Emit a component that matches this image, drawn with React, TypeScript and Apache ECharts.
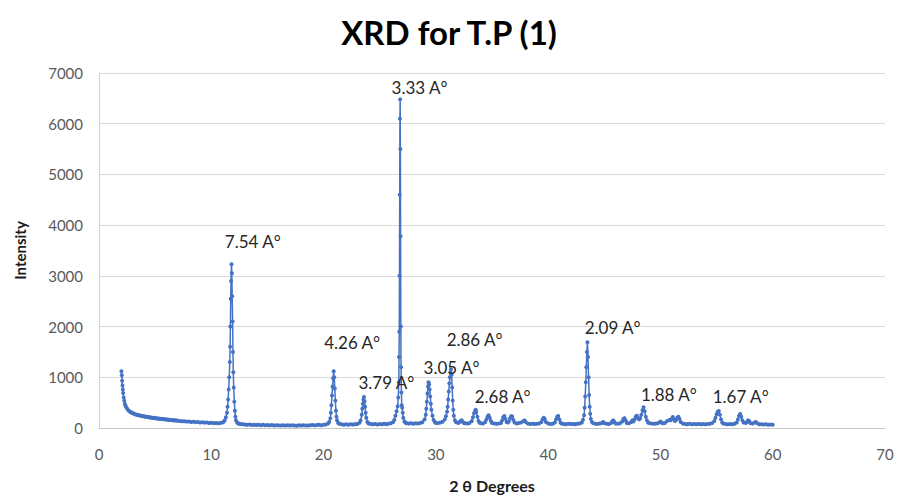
import React, { useEffect, useRef } from "react";
import * as echarts from "echarts";

// 2θ (degrees) vs intensity (counts)
const scanLowAngle: [number, number][] = [
  [2.0, 1120], [2.03, 1040], [2.06, 930], [2.09, 840], [2.12, 760], [2.15, 690], [2.2, 600], [2.25, 540],
  [2.3, 480], [2.35, 445], [2.4, 420], [2.5, 385], [2.6, 352], [2.7, 335], [2.8, 312], [2.9, 305],
  [3.0, 292], [3.1, 285], [3.2, 272], [3.3, 268], [3.4, 258], [3.5, 255], [3.6, 246], [3.7, 244],
  [3.8, 236], [3.9, 238], [4.0, 228], [4.1, 226], [4.2, 220], [4.3, 222], [4.4, 212], [4.5, 214],
  [4.6, 206], [4.7, 204], [4.8, 198], [4.9, 200], [5.0, 192], [5.1, 194], [5.2, 186], [5.3, 188],
  [5.4, 180], [5.5, 182], [5.6, 175], [5.7, 178], [5.8, 170], [5.9, 172], [6.0, 165], [6.1, 168],
  [6.2, 160], [6.3, 162], [6.4, 156], [6.5, 158], [6.6, 150], [6.7, 154], [6.8, 146], [6.9, 150],
  [7.0, 142], [7.2, 140], [7.4, 134], [7.6, 132], [7.8, 126], [8.0, 128], [8.2, 120], [8.4, 122],
  [8.6, 116], [8.8, 118], [9.0, 110], [9.2, 112], [9.4, 106], [9.6, 108], [9.8, 100], [10.0, 102],
  [10.2, 96], [10.4, 98], [10.6, 94], [10.8, 100], [11.0, 108], [11.1, 122], [11.2, 150], [11.3, 210],
  [11.4, 300], [11.45, 420], [11.5, 560], [11.55, 760], [11.6, 1000], [11.65, 1300], [11.68, 1600],
  [11.7, 2000], [11.73, 2550], [11.76, 2900], [11.8, 3230], [11.83, 3050], [11.86, 2600], [11.9, 2100],
  [11.93, 1500], [11.96, 1100], [12.0, 800], [12.05, 520], [12.1, 340], [12.15, 220], [12.2, 150],
  [12.3, 110], [12.4, 88], [12.5, 82], [12.6, 78], [12.8, 72], [13.0, 68], [13.2, 62], [13.4, 70],
  [13.6, 60], [13.8, 66], [14.0, 58], [14.2, 64], [14.4, 56], [14.6, 62], [14.8, 54], [15.0, 60],
  [15.2, 52], [15.4, 58], [15.6, 50], [15.8, 56], [16.0, 52], [16.2, 48], [16.4, 56], [16.6, 50],
  [16.8, 56], [17.0, 48], [17.2, 54], [17.4, 50], [17.6, 46], [17.8, 54], [18.0, 50], [18.2, 56],
  [18.4, 50], [18.6, 48], [18.8, 56], [19.0, 58], [19.2, 52], [19.4, 58], [19.6, 62], [19.8, 56],
  [20.0, 64], [20.2, 70], [20.4, 88],
];

const scanMidAngle: [number, number][] = [
  [20.5, 120], [20.6, 190], [20.65, 300], [20.7, 450], [20.75, 640], [20.8, 820], [20.85, 980],
  [20.9, 1120], [20.95, 1000], [21.0, 780], [21.05, 540], [21.1, 340], [21.15, 220], [21.2, 150],
  [21.3, 100], [21.4, 82], [21.6, 72], [21.8, 66], [22.0, 74], [22.2, 64], [22.4, 72], [22.6, 68],
  [22.8, 76], [23.0, 80], [23.2, 104], [23.3, 150], [23.4, 260], [23.45, 380], [23.5, 480],
  [23.55, 560], [23.6, 610], [23.65, 530], [23.7, 420], [23.75, 300], [23.8, 200], [23.9, 120],
  [24.0, 90], [24.2, 78], [24.4, 72], [24.6, 80], [24.8, 70], [25.0, 78], [25.2, 72], [25.4, 82],
  [25.6, 76], [25.8, 86], [26.0, 92], [26.2, 120], [26.3, 160], [26.4, 240], [26.5, 330], [26.6, 430],
  [26.65, 600], [26.7, 900], [26.72, 1400], [26.74, 1900], [26.76, 3000], [26.78, 4600], [26.8, 6100],
  [26.82, 6480], [26.84, 5500], [26.86, 3780], [26.88, 2000], [26.9, 1200], [26.93, 700], [26.96, 450],
  [27.0, 400], [27.05, 300], [27.1, 200], [27.2, 130], [27.3, 104], [27.4, 92], [27.6, 88], [27.8, 94],
  [28.0, 84], [28.2, 92], [28.4, 88], [28.6, 98], [28.8, 112], [29.0, 170], [29.1, 260], [29.15, 380],
  [29.2, 520], [29.25, 680], [29.3, 820], [29.35, 900], [29.4, 860], [29.45, 760], [29.5, 620],
  [29.55, 480], [29.6, 360], [29.7, 240], [29.8, 160], [29.9, 120], [30.0, 100], [30.2, 96],
  [30.4, 108], [30.6, 124], [30.8, 170], [30.9, 230], [31.0, 320], [31.05, 420], [31.1, 560],
  [31.15, 720], [31.2, 880], [31.25, 1000], [31.3, 1100], [31.35, 1160], [31.4, 1050], [31.45, 800],
  [31.5, 540], [31.55, 360], [31.6, 240], [31.7, 150], [31.8, 112],
];

const scanHighAngle: [number, number][] = [
  [32.0, 100], [32.1, 118], [32.2, 140], [32.3, 152], [32.4, 120], [32.5, 98], [32.6, 92], [32.8, 88],
  [33.0, 98], [33.2, 140], [33.3, 210], [33.4, 290], [33.5, 340], [33.55, 360], [33.6, 320], [33.7, 220],
  [33.8, 140], [33.9, 104], [34.0, 94], [34.2, 90], [34.4, 118], [34.5, 170], [34.6, 220], [34.7, 250],
  [34.8, 200], [34.9, 140], [35.0, 100], [35.2, 88], [35.4, 82], [35.6, 86], [35.8, 100], [35.9, 150],
  [36.0, 210], [36.1, 235], [36.2, 180], [36.3, 120], [36.4, 110], [36.5, 130], [36.6, 190], [36.7, 230],
  [36.8, 225], [36.9, 160], [37.0, 110], [37.2, 90], [37.4, 98], [37.6, 110], [37.8, 140], [37.9, 150],
  [38.0, 120], [38.2, 86], [38.4, 80], [38.6, 84], [38.8, 78], [39.0, 82], [39.2, 88], [39.4, 120],
  [39.5, 170], [39.6, 200], [39.7, 180], [39.8, 120], [40.0, 88], [40.2, 80], [40.4, 84], [40.6, 110],
  [40.7, 170], [40.8, 220], [40.9, 235], [41.0, 170], [41.1, 110], [41.2, 86], [41.4, 80], [41.6, 76],
  [41.8, 82], [42.0, 78], [42.2, 80], [42.4, 76], [42.6, 84], [42.8, 88], [43.0, 110], [43.1, 160],
  [43.2, 250], [43.25, 400], [43.3, 620], [43.35, 900], [43.4, 1200], [43.45, 1500], [43.5, 1690],
  [43.55, 1400], [43.6, 1000], [43.65, 650], [43.7, 420], [43.75, 280], [43.8, 180], [43.9, 120],
  [44.0, 96],
];

const scanWideAngle: [number, number][] = [
  [44.2, 84], [44.4, 80], [44.6, 88], [44.8, 100], [44.9, 120], [45.0, 96], [45.2, 82], [45.4, 80],
  [45.6, 96], [45.7, 130], [45.8, 150], [45.9, 120], [46.0, 90], [46.2, 82], [46.4, 92], [46.6, 130],
  [46.7, 180], [46.8, 195], [46.9, 150], [47.0, 100], [47.2, 92], [47.4, 120], [47.5, 150], [47.6, 130],
  [47.7, 170], [47.8, 220], [47.9, 240], [48.0, 200], [48.1, 170], [48.2, 190], [48.3, 260], [48.4, 350],
  [48.5, 410], [48.6, 330], [48.7, 220], [48.8, 150], [48.9, 110], [49.0, 96], [49.2, 88], [49.4, 82],
  [49.6, 86], [49.8, 100], [50.0, 130], [50.1, 110], [50.2, 92], [50.4, 100], [50.6, 140], [50.8, 160],
  [50.9, 150], [51.0, 180], [51.1, 215], [51.2, 170], [51.3, 140], [51.4, 160], [51.5, 200], [51.6, 220],
  [51.7, 180], [51.8, 120], [52.0, 90], [52.2, 80], [52.4, 76], [52.6, 82], [52.8, 74], [53.0, 78],
  [53.2, 72], [53.4, 80], [53.6, 74], [53.8, 78], [54.0, 72], [54.2, 80], [54.4, 84], [54.6, 96],
  [54.8, 140], [54.9, 200], [55.0, 270], [55.1, 320], [55.2, 335], [55.3, 260], [55.4, 170], [55.5, 110],
  [55.6, 88], [55.8, 78], [56.0, 74], [56.2, 80], [56.4, 72], [56.6, 84], [56.8, 110], [56.9, 170],
  [57.0, 240], [57.1, 275], [57.2, 220], [57.3, 150], [57.4, 110], [57.6, 100], [57.7, 120], [57.8, 150],
  [57.9, 140], [58.0, 100], [58.2, 90], [58.4, 110], [58.5, 120], [58.6, 96], [58.8, 76], [59.0, 72],
  [59.2, 68], [59.4, 74], [59.6, 66], [59.8, 70], [60.0, 64],
];

// d-spacing annotations and where their text sits (2θ, intensity)
const peakLabels = ["7.54 A°", "4.26 A°", "3.79 A°", "3.33 A°", "3.05 A°", "2.86 A°", "2.68 A°", "2.09 A°", "1.88 A°", "1.67 A°"];
const peakLabelX = [13.7, 22.55, 25.6, 28.55, 31.4, 33.45, 35.95, 45.75, 50.75, 57.15];
const peakLabelY = [3670, 1690, 905, 6720, 1200, 1750, 630, 1980, 670, 630];

const xTicks = { min: 0, max: 70, interval: 10 };
const yTicks = { min: 0, max: 7000, interval: 1000 };

export default function App() {
  const ref = useRef<HTMLDivElement>(null);

  useEffect(() => {
    document.body.style.margin = "0";
    if (!ref.current) return;
    const chart = echarts.init(ref.current, undefined, { renderer: "svg" });
    const scan = [...scanLowAngle, ...scanMidAngle, ...scanHighAngle, ...scanWideAngle];
    const font = "Lato, 'Open Sans', sans-serif";
    chart.setOption({
      animation: false,
      backgroundColor: "#ffffff",
      title: {
        text: "XRD for T.P (1)",
        left: "center",
        top: 10,
        textStyle: { fontFamily: font, fontSize: 33, fontWeight: "bold", color: "#000000" },
      },
      grid: { left: 99, right: 13, top: 73, bottom: 69 },
      xAxis: {
        type: "value",
        min: xTicks.min,
        max: xTicks.max,
        interval: xTicks.interval,
        name: "2 θ Degrees",
        nameLocation: "middle",
        nameGap: 49,
        nameTextStyle: { fontFamily: font, fontSize: 16, fontWeight: "bold", color: "#1a1a1a" },
        axisLine: { show: true, lineStyle: { color: "#c8c8c8", width: 1 } },
        axisTick: { show: false },
        splitLine: { show: false },
        axisLabel: { fontFamily: font, fontSize: 15, color: "#595959", margin: 18, formatter: (v: number) => String(v) },
      },
      yAxis: {
        type: "value",
        min: yTicks.min,
        max: yTicks.max,
        interval: yTicks.interval,
        name: "Intensity",
        nameLocation: "middle",
        nameGap: 72,
        nameTextStyle: { fontFamily: font, fontSize: 15, fontWeight: "bold", color: "#1a1a1a" },
        axisLine: { show: true, lineStyle: { color: "#d0d0d0", width: 1 } },
        axisTick: { show: false },
        splitLine: { show: true, lineStyle: { color: "#d9d9d9", width: 1 } },
        axisLabel: { fontFamily: font, fontSize: 15, color: "#595959", margin: 16, formatter: (v: number) => String(v) },
      },
      series: [
        {
          type: "line",
          data: scan,
          showSymbol: true,
          showAllSymbol: true,
          symbol: "circle",
          symbolSize: 4,
          lineStyle: { color: "#4472c4", width: 1.5 },
          itemStyle: { color: "#4472c4" },
          silent: true,
          z: 3,
        },
        {
          type: "scatter",
          data: peakLabels.map((t, i) => ({ value: [peakLabelX[i], peakLabelY[i]], name: t })),
          symbolSize: 1,
          itemStyle: { color: "rgba(0,0,0,0)" },
          silent: true,
          z: 5,
          label: {
            show: true,
            position: "inside",
            formatter: (p: any) => p.name,
            fontFamily: font,
            fontSize: 17,
            color: "#262626",
            textBorderWidth: 0,
            opacity: 1,
          },
        },
      ],
    });
    return () => chart.dispose();
  }, []);

  return <div ref={ref} style={{ width: 898, height: 498 }} />;
}
